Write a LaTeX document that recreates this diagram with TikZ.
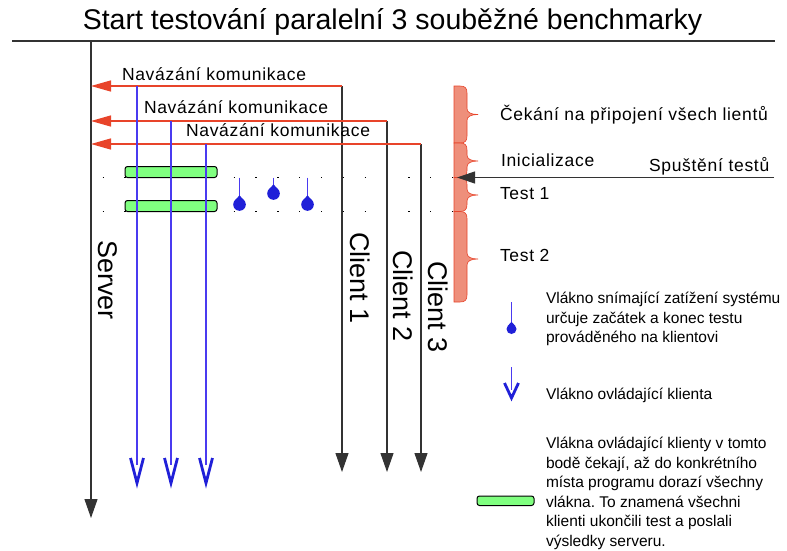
\documentclass[tikz,border=0pt]{standalone}
\usepackage{fontspec}
\setmainfont{Liberation Sans}
\newfontfamily\spacedfont[LetterSpace=4]{Liberation Sans}
\usetikzlibrary{arrows.meta}
\definecolor{redl}{HTML}{E8442A}
\definecolor{bracefill}{HTML}{EE8F7B}
\definecolor{threadcol}{HTML}{4A3AF0}
\definecolor{dotcol}{HTML}{2020D8}
\definecolor{greenbar}{HTML}{80FF80}
\definecolor{linecol}{HTML}{333333}
\frenchspacing
\newcommand\redbrace[3]{%
 \filldraw[bracestyle] (454,#1) -- (460,#1) .. controls (465,#1) and (467,#1+2) .. (467,#1+7)
  -- (467,#2-6) .. controls (467,#2-2) and (471,#2) .. (478,#2)
  .. controls (471,#2) and (467,#2+2) .. (467,#2+6)
  -- (467,#3-7) .. controls (467,#3-2) and (465,#3) .. (460,#3) -- (454,#3) -- cycle;}
\tikzset{
  pics/vee/.style 2 args={code={\draw[vtip] (-#1,-#2) -- (0,0) -- (#1,-#2);}},
  pics/drop/.style={code={\fill[dotcol] (0,0) circle (#1pt);
     \fill[dotcol] (-0.72*#1,-0.66*#1) -- (0,-1.45*#1) -- (0.72*#1,-0.66*#1) -- cycle;}},
}
\begin{document}
\begin{tikzpicture}[x=1pt,y=-1pt,
  every node/.style={inner sep=0pt, outer sep=0pt},
  blk/.style={draw=linecol, line width=1.1pt},
  blkarrow/.style={blk, -{Triangle[length=19pt,width=13pt]}},
  runarrow/.style={blk, -{Triangle[length=18pt,width=12pt]}},
  redarrow/.style={draw=redl, line width=1.3pt, -{Triangle[length=20pt,width=11pt]}},
  thread/.style={draw=threadcol, line width=1.2pt},
  vtip/.style={draw=dotcol, line width=2.8pt, line join=miter},
  bar/.style={draw=black, line width=1pt, fill=greenbar, rounded corners=2.5pt},
  dots/.style={draw=black, line width=1.2pt, dash pattern=on 1.2pt off 20.65pt},
  bracestyle/.style={fill=bracefill, draw=redl, line width=0.6pt},
  lbl/.style={font=\spacedfont\fontsize{17.5}{20}\selectfont, anchor=base west},
  big/.style={font=\fontsize{27}{30}\selectfont, rotate=-90},
  legend/.style={font=\fontsize{15.5}{19.5}\selectfont, align=left, anchor=north west},
]
\useasboundingbox (0,0) rectangle (787,551);
% title and top rule
\node[font=\fontsize{28.5}{32}\selectfont, anchor=base] (title) at (392.5,30) {Start testování paralelní 3 souběžné benchmarky};
\coordinate (hl) at (12,41); \coordinate (hr) at (775,41);
\draw[blk] (hl) -- (hr);
% dotted phase lines
\coordinate (d1l) at (102.5,177.5); \coordinate (d1r) at (456,177.5);
\coordinate (d2l) at (102.5,211.5); \coordinate (d2r) at (456,211.5);
\draw[dots] (d1l) -- (d1r);
\draw[dots] (d2l) -- (d2r);
% braces
\redbrace{86}{114.5}{143}
\redbrace{143}{161}{177.5}
\redbrace{177.5}{195}{211.5}
\redbrace{211.5}{259}{302}
% server
\coordinate (srvtop) at (91,41); \coordinate (srvend) at (91,518);
\draw[blkarrow] (srvtop) -- (srvend);
\node[big] (server) at (108,280) {Server};
% clients
\coordinate (c1top) at (342,86); \coordinate (c1end) at (342,472);
\coordinate (c2top) at (387,121); \coordinate (c2end) at (387,472);
\coordinate (c3top) at (421,144); \coordinate (c3end) at (421,472);
\draw[blkarrow] (c1top) -- (c1end);
\draw[blkarrow] (c2top) -- (c2end);
\draw[blkarrow] (c3top) -- (c3end);
\node[big] (client1) at (360,278) {Client 1};
\node[big] (client2) at (403,296) {Client 2};
\node[big] (client3) at (438,307) {Client 3};
% connection requests
\coordinate (s1) at (91,86); \coordinate (s2) at (91,121); \coordinate (s3) at (91,144);
\draw[redarrow] (c1top) -- (s1);
\draw[redarrow] (c2top) -- (s2);
\draw[redarrow] (c3top) -- (s3);
\node[lbl] (nk1) at (122,81) {Navázání komunikace};
\node[lbl] (nk2) at (144,113) {Navázání komunikace};
\node[lbl] (nk3) at (186,136.5) {Navázání komunikace};
% barriers
\draw[bar] (125,166.5) rectangle (217,177.5);
\draw[bar] (125,200.5) rectangle (217,211.5);
% client threads
\coordinate (t1s) at (137,86);  \coordinate (t1e) at (137,465);
\coordinate (t2s) at (171,121); \coordinate (t2e) at (171,465);
\coordinate (t3s) at (206,144); \coordinate (t3e) at (206,465);
\draw[thread] (t1s) -- (t1e);
\draw[thread] (t2s) -- (t2e);
\draw[thread] (t3s) -- (t3e);
\pic at (137,483) {vee={6.5}{25}};
\pic at (171,483) {vee={6.5}{25}};
\pic at (206,483) {vee={6.5}{25}};
% load monitor threads
\coordinate (m1s) at (239.5,177.5); \coordinate (m1e) at (239.5,204.5);
\coordinate (m2s) at (273.5,177.5); \coordinate (m2e) at (273.5,193.5);
\coordinate (m3s) at (307.5,177.5); \coordinate (m3e) at (307.5,204.5);
\draw[thread] (m1s) -- (m1e);
\draw[thread] (m2s) -- (m2e);
\draw[thread] (m3s) -- (m3e);
\pic at (m1e) {drop=6.3};
\pic at (m2e) {drop=6.3};
\pic at (m3e) {drop=6.3};
% start tests arrow
\coordinate (runr) at (774,177.5); \coordinate (runl) at (457,177.5);
\draw[runarrow] (runr) -- (runl);
% phase labels
\node[lbl] (wait) at (500,120) {Čekání na připojení všech lientů};
\node[lbl] (init) at (501,166) {Inicializace};
\node[lbl] (run) at (649,171) {Spuštění testů};
\node[lbl] (test1) at (500,199.5) {Test 1};
\node[lbl] (test2) at (500,261.5) {Test 2};
% legend
\coordinate (ldtop) at (511.5,302); \coordinate (ldot) at (511.5,329);
\draw[thread] (ldtop) -- (ldot);
\pic at (ldot) {drop=5};
\node[legend] (lt1) at (546,289.85) {\strut Vlákno snímající zatížení systému\\ určuje začátek a konec testu\\ prováděného na klientovi};
\coordinate (lvtop) at (511.5,367); \coordinate (lvend) at (511.5,390);
\draw[thread] (lvtop) -- (lvend);
\pic at (511.5,398) {vee={7}{15}};
\node[legend, anchor=base west] (lt2) at (546,399) {Vlákno ovládající klienta};
\draw[bar] (477,496) rectangle (534,505.5);
\node[legend] (lt3) at (546,434.85) {\strut Vlákna ovládající klienty v tomto\\ bodě čekají, až do konkrétního\\ místa programu dorazí všechny\\ vlákna. To znamená všechni\\ klienti ukončili test a poslali\\ výsledky serveru.};
\end{tikzpicture}
\end{document}
